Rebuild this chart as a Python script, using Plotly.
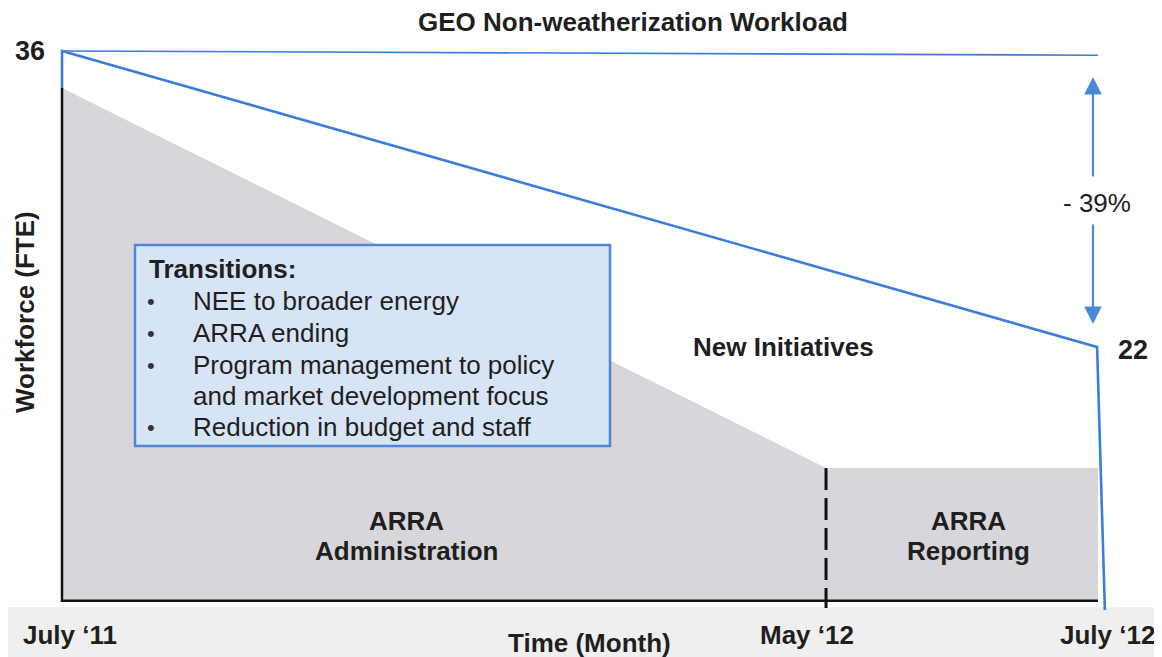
import plotly.graph_objects as go

# ---------------- data ----------------
time_labels = ["July \u201811", "May \u201812", "July \u201812"]
time_pos = [0, 8.85, 12]            # position of each label on the drawn time axis
workload_fte = [36, 22]             # total non-weatherization workload, start / end
baseline_fte = [36, 35.8]           # reference line at the starting level
arra_admin_top = [34.25, 16.28]     # ARRA administration band, July '11 -> May '12
arra_reporting_top = [16.28, 16.28] # ARRA reporting band, May '12 -> July '12
axis_floor = 10
drop_end = [11.99, 12.08]           # right-hand drop of the workload line (x)
drop_floor = 9.56
dash_floor = 9.66
change_label = "- 39%"
region_labels = ["New Initiatives", "ARRA", "Administration", "ARRA", "Reporting"]
transitions_title = "Transitions:"
transitions_lines = ["NEE to broader energy", "ARRA ending",
                     "Program management to policy", "and market development focus",
                     "Reduction in budget and staff"]
transitions_bullets = [True, True, True, False, True]

# ---------------- geometry helpers (layout only, screen pixels) ----------------
OFF = 8                      # page body margin
W, H = 1162 - OFF, 657 - OFF
PX_X0, PX_PER_X = 62.0, 86.33
PX_Y36, PX_PER_Y = 51.0, 296.0 / 14.0


def X(px):
    return (px - PX_X0) / PX_PER_X


def Y(px):
    return 36 - (px - PX_Y36) / PX_PER_Y


xr = [X(OFF), X(OFF + W)]
yr = [Y(OFF + H), Y(OFF)]

BLUE = "#3b7ddb"
ARROW = "#4a88d8"
GRAY = "#d8d6db"
TXT = "#1f1f1f"
FONT = "Arial, Liberation Sans, sans-serif"

fig = go.Figure()

# faint scan band below the axis
fig.add_shape(type="rect", x0=xr[0], x1=xr[1], y0=yr[0], y1=Y(607),
              fillcolor="#efefef", line=dict(width=0), layer="below")

# gray ARRA bands
gx = [time_pos[0], time_pos[0], time_pos[1], time_pos[2], time_pos[2], time_pos[0]]
gy = [axis_floor, arra_admin_top[0], arra_admin_top[1], arra_reporting_top[1], axis_floor, axis_floor]
fig.add_trace(go.Scatter(x=gx, y=gy, fill="toself", fillcolor=GRAY, mode="none",
                         hoverinfo="skip", showlegend=False))

# black left edge and bottom axis
fig.add_trace(go.Scatter(x=[time_pos[0], time_pos[0], time_pos[2]],
                         y=[arra_admin_top[0], axis_floor, axis_floor], mode="lines",
                         line=dict(color="#111111", width=2.5), hoverinfo="skip", showlegend=False))

# dashed May '12 divider
fig.add_trace(go.Scatter(x=[time_pos[1], time_pos[1]], y=[arra_reporting_top[0], dash_floor],
                         mode="lines", line=dict(color="#111111", width=3, dash="22px,8px"),
                         hoverinfo="skip", showlegend=False))

# baseline (top level)
fig.add_trace(go.Scatter(x=[time_pos[0], time_pos[2]], y=baseline_fte, mode="lines",
                         line=dict(color=BLUE, width=1.6), hoverinfo="skip", showlegend=False))

# workload line: left riser, diagonal, right drop
fig.add_trace(go.Scatter(x=[time_pos[0], time_pos[0], drop_end[0], drop_end[1]],
                         y=[arra_admin_top[0], workload_fte[0], workload_fte[1], drop_floor],
                         mode="lines", line=dict(color=BLUE, width=2.6),
                         hoverinfo="skip", showlegend=False))

# transitions box
fig.add_shape(type="rect", x0=X(135), x1=X(610), y0=Y(446), y1=Y(245),
              fillcolor="#d7e4f6", line=dict(color="#4d87d6", width=2.5), layer="above")

ann = []


def txt(x, y, s, size=26, bold=False, xanchor="center", color=TXT, **kw):
    ann.append(dict(x=x, y=y, xref="x", yref="y", text=("<b>%s</b>" % s) if bold else s,
                    showarrow=False, xanchor=xanchor, yanchor="middle",
                    font=dict(family=FONT, size=size, color=color), **kw))


# title
txt(X(633), Y(22), "GEO Non-weatherization Workload", size=26, bold=True)
# level labels
txt(X(30), Y(51), str(workload_fte[0]), size=27, bold=True)
txt(X(1133), Y(350), str(workload_fte[1]), size=27, bold=True)
# y-axis title
txt(X(25), Y(312), "Workforce (FTE)", size=26, bold=True, textangle=-90)
# region labels
txt(X(783), Y(347), region_labels[0], bold=True)
txt(X(406), Y(521), region_labels[1], bold=True)
txt(X(406), Y(551), region_labels[2], bold=True)
txt(X(968), Y(521), region_labels[3], bold=True)
txt(X(968), Y(551), region_labels[4], bold=True)
# time labels
txt(X(70), Y(635), time_labels[0], bold=True)
txt(X(807), Y(635), time_labels[1], bold=True)
txt(X(1107), Y(635), time_labels[2], bold=True)
txt(X(589), Y(643), "Time (Month)", bold=True)
# change label
txt(X(1097), Y(203), change_label, size=26)

# transitions text
line_y = [301, 333, 365, 396, 427]
txt(X(147), Y(269), transitions_title, bold=True, xanchor="left")
for ly, s, b in zip(line_y, transitions_lines, transitions_bullets):
    if b:
        txt(X(151), Y(ly), "\u2022", size=22, color="#333333")
    txt(X(191), Y(ly), s, xanchor="left")

# double arrow
ax_x = X(1093)
ann.append(dict(x=ax_x, y=Y(77), ax=ax_x, ay=Y(178), xref="x", yref="y", axref="x", ayref="y",
                showarrow=True, arrowhead=2, arrowsize=1.6, arrowwidth=2.2, arrowcolor=ARROW, text=""))
ann.append(dict(x=ax_x, y=Y(324), ax=ax_x, ay=Y(223), xref="x", yref="y", axref="x", ayref="y",
                showarrow=True, arrowhead=2, arrowsize=1.6, arrowwidth=2.2, arrowcolor=ARROW, text=""))

fig.update_layout(
    width=W, height=H,
    margin=dict(l=0, r=0, t=0, b=0),
    paper_bgcolor="white", plot_bgcolor="rgba(0,0,0,0)",
    xaxis=dict(range=xr, visible=False, fixedrange=True),
    yaxis=dict(range=yr, visible=False, fixedrange=True),
    annotations=ann,
    showlegend=False,
)

fig.write_html("out.html")
